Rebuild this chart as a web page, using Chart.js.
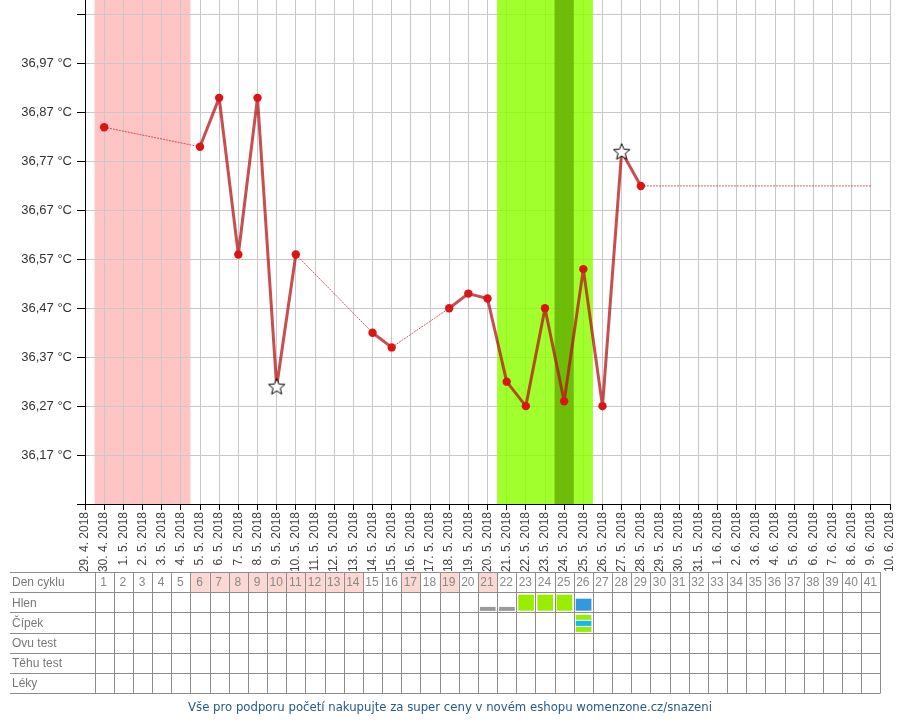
<!DOCTYPE html>
<html>
<head>
<meta charset="utf-8">
<script src="https://cdn.jsdelivr.net/npm/chart.js@4.4.0/dist/chart.umd.min.js"></script>
<style>
  body { margin: 0; background: #fff; }
  #wrap { width: 900px; height: 720px; }
</style>
</head>
<body>
<div id="wrap"><canvas id="cycleChart" width="900" height="720"></canvas></div>
<script>
// popisky osy x (den 0 = 29. 4. 2018)
const dateLabels = [
  '29. 4. 2018', '30. 4. 2018', '1. 5. 2018', '2. 5. 2018', '3. 5. 2018', '4. 5. 2018',
  '5. 5. 2018', '6. 5. 2018', '7. 5. 2018', '8. 5. 2018', '9. 5. 2018', '10. 5. 2018',
  '11. 5. 2018', '12. 5. 2018', '13. 5. 2018', '14. 5. 2018', '15. 5. 2018', '16. 5. 2018',
  '17. 5. 2018', '18. 5. 2018', '19. 5. 2018', '20. 5. 2018', '21. 5. 2018', '22. 5. 2018',
  '23. 5. 2018', '24. 5. 2018', '25. 5. 2018', '26. 5. 2018', '27. 5. 2018', '28. 5. 2018',
  '29. 5. 2018', '30. 5. 2018', '31. 5. 2018', '1. 6. 2018', '2. 6. 2018', '3. 6. 2018',
  '4. 6. 2018', '5. 6. 2018', '6. 6. 2018', '7. 6. 2018', '8. 6. 2018', '9. 6. 2018',
  '10. 6. 2018'
];

const yTicks = [36.07, 36.17, 36.27, 36.37, 36.47, 36.57, 36.67, 36.77, 36.87, 36.97, 37.07];

// naměřené teploty (den cyklu -> °C)
const tempDays   = [1, 6, 7, 8, 9, 10, 11, 15, 16, 19, 20, 21, 22, 23, 24, 25, 26, 27, 28, 29];
const tempValues = [36.84, 36.80, 36.90, 36.58, 36.90, 36.31, 36.58, 36.42, 36.39, 36.47,
                    36.50, 36.49, 36.32, 36.27, 36.47, 36.28, 36.55, 36.27, 36.79, 36.72];
const starDays = [10, 28];

// odhad do konce cyklu
const projDays   = [29, 41];
const projValues = [36.72, 36.72];

// pásy v grafu (dny cyklu)
const periodBand  = [1, 5];
const fertileBand = [22, 26];
const ovulationDay = 25;

// tabulka pod grafem
const cycleDays = Array.from({ length: 41 }, (_, i) => i + 1);
const rowLabels = ['Den cyklu', 'Hlen', 'Čípek', 'Ovu test', 'Těhu test', 'Léky'];
const markedDays = [6, 7, 8, 9, 10, 11, 12, 13, 14, 17, 19, 21];
const hlenDays  = [21, 22, 23, 24, 25, 26];
const hlenTypes = ['gray', 'gray', 'green', 'green', 'green', 'blue'];
const cipekDays = [26];

// hvězdička pro zvláštní měření
function makeStar() {
    const c = document.createElement('canvas');
    c.width = 20; c.height = 20;
    const g = c.getContext('2d');
    g.beginPath();
    for (let i = 0; i < 10; i++) {
        const r = i % 2 ? 3.8 : 8.6;
        const a = -Math.PI / 2 + i * Math.PI / 5;
        const px = 10 + r * Math.cos(a), py = 10.5 + r * Math.sin(a);
        if (i === 0) g.moveTo(px, py); else g.lineTo(px, py);
    }
    g.closePath();
    g.fillStyle = '#fff';
    g.fill();
    g.lineWidth = 1;
    g.strokeStyle = '#000';
    g.stroke();
    return c;
}
const star = makeStar();

const isGap = ctx => ctx.p1.parsed.x - ctx.p0.parsed.x > 1;

const bandsPlugin = {
    id: 'bands',
    beforeDraw(chart) {
        const { ctx, chartArea, scales } = chart;
        const x = v => scales.x.getPixelForValue(v);
        ctx.save();
        ctx.fillStyle = '#ffc4c4';
        ctx.fillRect(x(periodBand[0] - 0.5), chartArea.top, x(periodBand[1] + 0.5) - x(periodBand[0] - 0.5), chartArea.bottom - chartArea.top);
        ctx.restore();
    },
    beforeDatasetsDraw(chart) {
        const { ctx, chartArea, scales } = chart;
        const x = v => scales.x.getPixelForValue(v);
        const h = chartArea.bottom - chartArea.top;
        ctx.save();
        ctx.fillStyle = 'rgba(140,255,0,0.82)';
        ctx.fillRect(x(fertileBand[0] - 0.5), chartArea.top, x(fertileBand[1] + 0.5) - x(fertileBand[0] - 0.5), h);
        ctx.fillStyle = 'rgba(97,174,0,0.8)';
        ctx.fillRect(x(ovulationDay - 0.5), chartArea.top, x(ovulationDay + 0.5) - x(ovulationDay - 0.5), h);
        ctx.restore();
    }
};

const tablePlugin = {
    id: 'cycleTable',
    afterDraw(chart) {
        const { ctx, scales } = chart;
        const x = v => scales.x.getPixelForValue(v);
        const top = 572, rh = 20.2, left = 10;
        const right = x(cycleDays.length + 0.5);
        const crisp = v => Math.round(v) + 0.5;
        ctx.save();

        // zvýrazněné dny v záhlaví
        ctx.fillStyle = '#fcd8d3';
        markedDays.forEach(d => {
            ctx.fillRect(x(d - 0.5), top, x(d + 0.5) - x(d - 0.5), rh);
        });

        // hlen
        hlenDays.forEach((d, i) => {
            const x0 = x(d - 0.5), x1 = x(d + 0.5);
            const rowTop = top + rh, rowBot = top + 2 * rh;
            const t = hlenTypes[i];
            if (t === 'gray') {
                ctx.fillStyle = '#9a9a9a';
                ctx.fillRect(x0 + 2, rowBot - 5.5, x1 - x0 - 3.5, 4);
            } else if (t === 'green') {
                ctx.fillStyle = '#99ee00';
                ctx.fillRect(x0 + 2, rowTop + 2.5, x1 - x0 - 3.5, 16);
            } else {
                ctx.fillStyle = '#3399dd';
                ctx.fillRect(x0 + 2, rowTop + 6.5, x1 - x0 - 3.5, 12);
            }
        });

        // čípek
        cipekDays.forEach(d => {
            const x0 = x(d - 0.5), x1 = x(d + 0.5);
            const rowTop = top + 2 * rh;
            const cols = ['#99ee00', '#11bbee', '#99ee00'];
            cols.forEach((c, i) => {
                ctx.fillStyle = c;
                ctx.fillRect(x0 + 2, rowTop + 2.5 + i * 6, x1 - x0 - 3.5, 5);
            });
        });

        // mřížka
        ctx.strokeStyle = '#8c8c8c';
        ctx.lineWidth = 1;
        ctx.beginPath();
        for (let i = 0; i <= rowLabels.length; i++) {
            const y = crisp(top + i * rh);
            ctx.moveTo(left, y);
            ctx.lineTo(right, y);
        }
        for (let d = 1; d <= cycleDays.length + 1; d++) {
            const xx = crisp(x(d - 0.5));
            ctx.moveTo(xx, top);
            ctx.lineTo(xx, top + rowLabels.length * rh);
        }
        ctx.stroke();

        // texty
        ctx.font = '12px Arial, "Liberation Sans", sans-serif';
        ctx.textBaseline = 'middle';
        ctx.fillStyle = '#777';
        ctx.textAlign = 'left';
        rowLabels.forEach((l, i) => ctx.fillText(l, 12, top + i * rh + rh / 2 + 1));
        ctx.textAlign = 'center';
        ctx.fillStyle = '#888';
        cycleDays.forEach(d => ctx.fillText(String(d), x(d) - 0.5, top + rh / 2 + 1));

        // patička
        ctx.font = '13px "DejaVu Sans Condensed", "DejaVu Sans", sans-serif';
        ctx.fillStyle = '#235a8c';
        ctx.fillText('Vše pro podporu početí nakupujte za super ceny v novém eshopu womenzone.cz/snazeni', 450, 708);
        ctx.restore();
    }
};

new Chart(document.getElementById('cycleChart'), {
    type: 'line',
    data: {
        datasets: [
            {
                data: tempDays.map((d, i) => ({ x: d, y: tempValues[i] })),
                borderColor: 'rgba(180,20,20,0.75)',
                borderWidth: 3,
                borderJoinStyle: 'round',
                tension: 0,
                segment: {
                    borderWidth: ctx => isGap(ctx) ? 1 : undefined,
                    borderDash: ctx => isGap(ctx) ? [2, 1] : undefined,
                    borderColor: ctx => isGap(ctx) ? 'rgba(190,40,40,0.75)' : undefined
                },
                pointStyle: ctx => starDays.includes(ctx.raw.x) ? star : 'circle',
                pointRadius: 4.2,
                pointBorderWidth: 0,
                pointBackgroundColor: '#dd1414',
                pointHoverRadius: 4.2
            },
            {
                data: projDays.map((d, i) => ({ x: d, y: projValues[i] })),
                borderColor: 'rgba(190,40,40,0.75)',
                borderWidth: 1,
                borderDash: [2, 1],
                pointRadius: 0
            }
        ]
    },
    options: {
        responsive: false,
        animation: false,
        layout: { autoPadding: false, padding: { left: 0, top: 0, right: 10, bottom: 0 } },
        plugins: {
            legend: { display: false },
            tooltip: { enabled: false }
        },
        scales: {
            x: {
                type: 'linear',
                min: 0,
                max: dateLabels.length - 1,
                afterBuildTicks: s => { s.ticks = dateLabels.map((_, i) => ({ value: i })); },
                afterFit: s => {
                    s.height = 216;
                    s.paddingLeft = 0;
                    s.paddingRight = 0;
                },
                ticks: {
                    autoSkip: false,
                    minRotation: 90,
                    maxRotation: 90,
                    padding: 2,
                    color: '#444',
                    font: { size: 12, family: 'Arial, "Liberation Sans", sans-serif' },
                    callback: v => dateLabels[v]
                },
                grid: { color: '#c8c8c8', tickColor: '#000', tickLength: 6 },
                border: { color: '#000' }
            },
            y: {
                min: 36.07,
                max: 37.10,
                afterBuildTicks: s => { s.ticks = yTicks.map(v => ({ value: v })); },
                afterFit: s => {
                    s.width = 85;
                    s.paddingTop = 0;
                    s.paddingBottom = 0;
                },
                ticks: {
                    padding: 5,
                    color: '#333',
                    font: { size: 13, family: 'Arial, "Liberation Sans", sans-serif' },
                    callback: v => (v > 37 || v < 36.1) ? '' : v.toFixed(2).replace('.', ',') + ' °C'
                },
                grid: { color: '#c8c8c8', tickColor: '#000', tickLength: 8 },
                border: { color: '#000' }
            }
        }
    },
    plugins: [bandsPlugin, tablePlugin]
});
</script>
</body>
</html>
